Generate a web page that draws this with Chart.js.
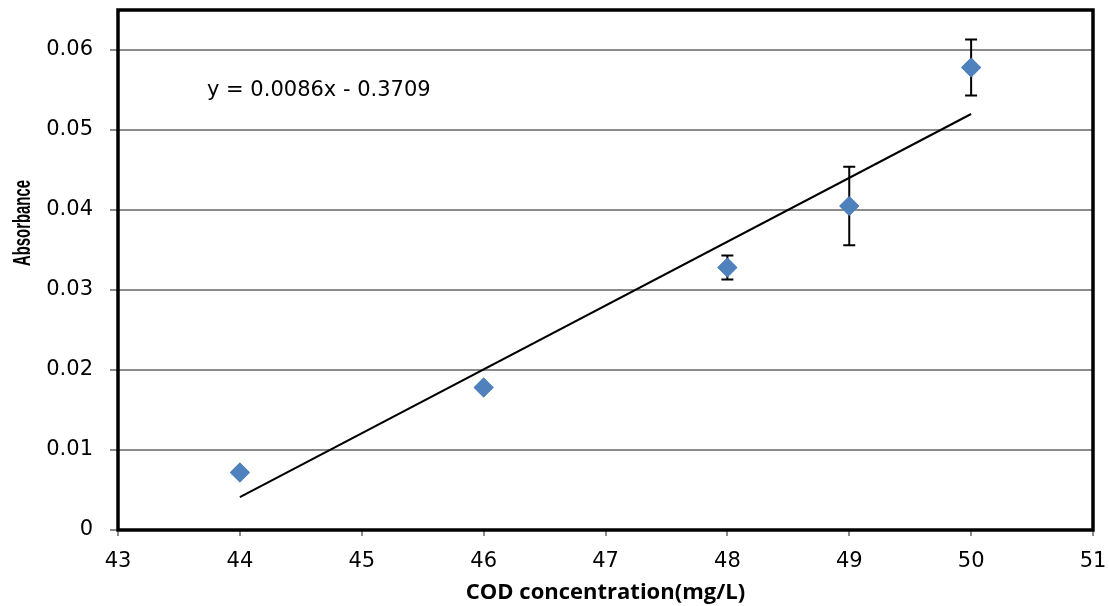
<!DOCTYPE html>
<html>
<head>
<meta charset="utf-8">
<script src="https://cdn.jsdelivr.net/npm/chart.js@4.4.1/dist/chart.umd.min.js"></script>
<style>
  html, body { margin: 0; padding: 0; background: #fff; }
  #wrap { width: 1109px; height: 606px; }
</style>
</head>
<body>
<div id="wrap"><canvas id="my-chart" width="1109" height="606"></canvas></div>
<script>
'use strict';

// ************** Data ***************

let codValues = [44, 46, 48, 49, 50];
let absorbance = [0.0072, 0.0178, 0.0328, 0.0405, 0.0578];
let errorValues = [0, 0, 0.0015, 0.0049, 0.0035];

// trend line as drawn in the picture (end points)
let trendX = [44, 50];
let trendY = [0.0041, 0.0520];

let xTicks = [43, 44, 45, 46, 47, 48, 49, 50, 51];
let yTicks = [0, 0.01, 0.02, 0.03, 0.04, 0.05, 0.06];

let equationText = 'y = 0.0086x - 0.3709';

// ************** Plugins ***************

let frameAndBars = {
  id: 'frameAndBars',
  afterDatasetsDraw(chart) {
    let c = chart.ctx;
    let xs = chart.scales.x;
    let ys = chart.scales.y;
    let area = chart.chartArea;

    // error bars
    c.save();
    c.strokeStyle = '#000';
    c.lineWidth = 2;
    for (let i = 0; i < codValues.length; i++) {
      if (!errorValues[i]) continue;
      let px = xs.getPixelForValue(codValues[i]);
      let top = ys.getPixelForValue(absorbance[i] + errorValues[i]);
      let bot = ys.getPixelForValue(absorbance[i] - errorValues[i]);
      c.beginPath();
      c.moveTo(px, top); c.lineTo(px, bot);
      c.moveTo(px - 6, top); c.lineTo(px + 6, top);
      c.moveTo(px - 6, bot); c.lineTo(px + 6, bot);
      c.stroke();
    }
    c.restore();

    // redraw markers on top of the error bars
    let meta = chart.getDatasetMeta(0);
    meta.data.forEach(function (pt) { pt.draw(c, area); });

    // plot frame
    c.save();
    c.strokeStyle = '#000';
    c.lineWidth = 3.5;
    c.strokeRect(area.left, area.top, area.right - area.left, area.bottom - area.top);
    c.restore();

    // equation
    c.save();
    c.fillStyle = '#000';
    c.font = '21px "DejaVu Sans"';
    c.textBaseline = 'middle';
    c.fillText(equationText, area.left + 89, area.top + 81);
    c.restore();

    // y axis title (condensed like the original)
    c.save();
    c.translate(24, 223);
    c.rotate(-Math.PI / 2);
    c.fillStyle = '#000';
    c.font = 'bold 23px "Liberation Sans"';
    let w = c.measureText('Absorbance').width;
    c.scale(86 / w, 1);
    c.textAlign = 'center';
    c.textBaseline = 'middle';
    c.fillText('Absorbance', 0, 0);
    c.restore();
  }
};

// ************** Chart ***************

let ctx = document.getElementById('my-chart').getContext('2d');

let points = [];
for (let i = 0; i < codValues.length; i++) {
  points.push({ x: codValues[i], y: absorbance[i] });
}
let trendPoints = [];
for (let i = 0; i < trendX.length; i++) {
  trendPoints.push({ x: trendX[i], y: trendY[i] });
}

new Chart(ctx, {
  type: 'scatter',
  data: {
    datasets: [{
      label: 'Absorbance',
      data: points,
      pointStyle: 'rectRot',
      pointRadius: 10,
      backgroundColor: '#4F81BD',
      borderColor: '#4F81BD',
      borderWidth: 0,
      order: 1
    }, {
      label: 'Linear',
      data: trendPoints,
      type: 'line',
      showLine: true,
      pointRadius: 0,
      borderColor: '#000',
      borderWidth: 2,
      fill: false,
      order: 2
    }]
  },
  options: {
    responsive: false,
    animation: false,
    devicePixelRatio: 1,
    layout: { padding: { left: 0, top: 8, right: 16, bottom: 0 } },
    plugins: {
      legend: { display: false },
      tooltip: { enabled: false }
    },
    scales: {
      x: {
        type: 'linear',
        min: 43,
        max: 51,
        afterBuildTicks: function (scale) {
          scale.ticks = xTicks.map(function (v) { return { value: v }; });
        },
        afterFit: function (scale) {
          scale.height = 76;
          scale.paddingLeft = 0;
          scale.paddingRight = 0;
        },
        grid: {
          drawOnChartArea: false,
          color: '#8c8c8c',
          lineWidth: 2,
          tickLength: 6
        },
        border: { display: false },
        ticks: {
          color: '#000',
          padding: 13,
          font: { family: 'DejaVu Sans', size: 21 }
        },
        title: {
          display: true,
          text: 'COD concentration(mg/L)',
          color: '#000',
          padding: { top: 0, bottom: 0 },
          font: { family: 'Open Sans', size: 22, weight: 'bold' }
        }
      },
      y: {
        type: 'linear',
        min: 0,
        max: 0.065,
        afterBuildTicks: function (scale) {
          scale.ticks = yTicks.map(function (v) { return { value: v }; });
        },
        afterFit: function (scale) {
          scale.width = 118;
          scale.paddingTop = 0;
          scale.paddingBottom = 0;
        },
        grid: {
          color: '#8c8c8c',
          lineWidth: 2,
          tickLength: 8
        },
        border: { display: false },
        ticks: {
          color: '#000',
          padding: 17,
          font: { family: 'DejaVu Sans', size: 21 },
          callback: function (v) { return String(+v.toFixed(2)); }
        }
      }
    }
  },
  plugins: [frameAndBars]
});
</script>
</body>
</html>
